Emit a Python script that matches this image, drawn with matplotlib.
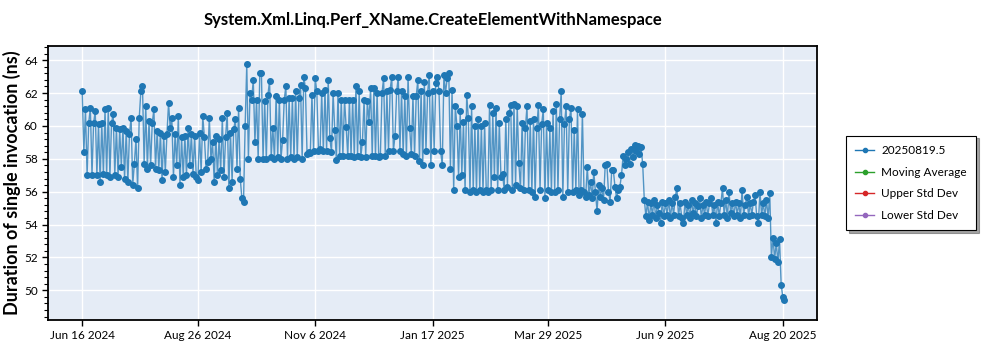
import pandas as pd
import matplotlib
matplotlib.use("Agg")
import matplotlib.pyplot as plt
import matplotlib.dates as mdates
from matplotlib.ticker import MultipleLocator, FuncFormatter

# --- data (one run per day) ---
START_DATE = "2024-06-16"
SERIES_LABEL = "20250819.5"

durations = [
    62.1, 58.4, 61.0, 57.0, 60.2, 61.1, 57.0, 60.2, 60.9, 57.0,
    60.1, 56.6, 60.2, 57.1, 61.0, 57.0, 61.1, 56.9, 60.2, 60.7,
    57.0, 59.9, 56.9, 59.8, 57.5, 59.9, 56.8, 59.7, 56.6, 59.5,
    60.5, 56.4, 57.7, 59.2, 56.2, 60.5, 62.1, 62.4, 57.7, 61.2,
    57.4, 60.3, 57.6, 60.2, 61.0, 57.4, 59.7, 57.3, 59.6, 56.7,
    59.4, 57.2, 59.5, 61.4, 59.85, 60.5, 56.9, 59.5, 57.6, 60.6,
    56.4, 59.3, 56.9, 59.4, 57.0, 59.9, 57.6, 59.5, 57.1, 59.4,
    56.9, 56.7, 59.6, 57.2, 60.6, 59.3, 57.4, 57.8, 60.5, 58.0,
    59.0, 56.6, 59.4, 57.0, 59.2, 57.3, 60.5, 56.9, 59.3, 60.8,
    56.2, 59.6, 56.6, 59.8, 60.4, 57.4, 61.1, 56.8, 55.6, 55.35,
    60.0, 63.75, 58.0, 62.0, 61.6, 62.8, 59.0, 61.6, 58.0, 63.2,
    63.2, 58.0, 61.5, 58.0, 61.9, 62.75, 58.1, 59.9, 58.0, 61.8,
    58.1, 61.6, 58.0, 59.15, 61.6, 62.4, 58.0, 61.7, 58.1, 61.7,
    58.0, 62.1, 58.1, 61.7, 62.5, 58.0, 63.0, 62.3, 58.3, 58.4,
    58.35, 61.9, 58.5, 62.9, 62.1, 58.5, 58.6, 62.0, 58.5, 62.2,
    58.5, 62.8, 59.25, 58.4, 62.0, 59.75, 57.95, 62.0, 58.2, 61.6,
    58.2, 61.6, 59.95, 58.15, 61.6, 58.2, 61.6, 58.1, 62.4, 58.2,
    62.1, 58.1, 59.05, 61.6, 58.1, 61.5, 60.25, 62.3, 58.2, 62.3,
    58.15, 62.0, 58.1, 58.2, 62.0, 62.9, 58.2, 62.1, 58.5, 62.2,
    63.0, 58.5, 59.4, 62.1, 63.0, 58.5, 62.1, 58.3, 61.8, 58.2,
    63.0, 59.85, 58.3, 61.8, 58.2, 61.8, 62.8, 57.85, 62.1, 57.6,
    62.7, 58.5, 62.0, 63.1, 57.6, 62.1, 58.5, 62.6, 63.0, 62.1,
    58.45, 57.6, 63.1, 62.0, 62.9, 63.25, 57.4, 62.2, 56.1, 61.2,
    60.0, 56.9, 60.9, 57.0, 60.25, 56.1, 61.9, 60.5, 56.0, 61.2,
    56.1, 60.0, 56.0, 60.45, 56.1, 60.0, 56.0, 60.15, 56.1, 56.0,
    61.25, 56.1, 60.8, 56.9, 61.1, 56.1, 60.2, 56.9, 57.1, 56.1,
    60.45, 56.3, 60.8, 61.25, 56.1, 61.35, 56.4, 61.2, 57.75, 56.2,
    60.2, 56.1, 59.85, 61.2, 56.1, 60.3, 56.0, 60.45, 55.7, 59.85,
    61.25, 56.1, 60.1, 61.0, 55.6, 60.2, 56.1, 59.9, 56.0, 60.9,
    56.0, 61.35, 56.1, 60.4, 62.1, 55.7, 60.1, 61.2, 56.0, 60.4,
    61.1, 56.0, 59.75, 56.1, 61.0, 55.8, 56.1, 60.75, 56.0, 55.7,
    57.5, 55.8, 56.6, 55.6, 57.2, 56.0, 54.8, 56.4, 55.7, 56.2,
    55.5, 57.6, 57.7, 56.0, 55.4, 57.3, 57.3, 56.3, 55.6, 56.1,
    56.3, 57.0, 58.2, 57.6, 58.0, 58.4, 57.7, 58.6, 58.1, 58.85,
    58.5, 58.8, 58.3, 58.7, 57.7, 55.5, 54.5, 55.4, 54.3, 55.3,
    54.6, 55.5, 54.4, 55.2, 54.7, 54.1, 55.4, 54.5, 55.3, 54.6,
    55.5, 54.4, 55.3, 54.6, 55.7, 56.2, 54.5, 55.3, 54.4, 54.1,
    55.4, 54.6, 55.2, 54.4, 55.5, 54.7, 55.3, 54.5, 55.1, 55.6,
    54.4, 55.2, 54.6, 55.4, 54.5, 55.3, 55.6, 54.6, 55.2, 54.1,
    55.4, 54.5, 55.3, 56.2, 54.6, 55.5, 54.4, 56.0, 54.7, 55.3,
    54.5, 55.4, 54.6, 55.3, 54.4, 56.1, 54.6, 55.2, 55.7, 54.5,
    55.3, 54.6, 55.4, 55.8, 54.5, 54.1, 56.0, 54.6, 55.3, 54.5,
    55.5, 54.4, 55.9, 52.0, 53.2, 51.9, 52.9, 51.7, 53.1, 50.35,
    49.6, 49.4,
]

x_ticks = ["2024-06-16", "2024-08-26", "2024-11-06", "2025-01-17",
           "2025-03-29", "2025-06-09", "2025-08-20"]

dates = pd.date_range(START_DATE, periods=len(durations), freq="D")

# --- plot ---
plt.rcParams["font.family"] = ["Lato", "DejaVu Sans"]

fig = plt.figure(figsize=(10, 3.5), dpi=100)
ax = fig.add_axes([0.048, 0.086, 0.769, 0.782])
ax.set_facecolor("#E5ECF6")

ax.plot(dates, durations, "-", color="#1f77b4", lw=1, alpha=0.75, zorder=2)
ax.plot(dates, durations, "o", color="#1f77b4", ms=4, zorder=3)
# legend handles (the extra series have no points in the chart)
ax.plot([], [], "o-", color="#1f77b4", ms=3, lw=1, label=SERIES_LABEL)
ax.plot([], [], "o-", color="#2ca02c", ms=3, lw=1, label="Moving Average")
ax.plot([], [], "o-", color="#d62728", ms=3, lw=1, label="Upper Std Dev")
ax.plot([], [], "o-", color="#9467bd", ms=3, lw=1, label="Lower Std Dev")

ax.set_xlim(pd.Timestamp("2024-05-26"), pd.Timestamp("2025-09-10"))
ax.set_ylim(48.2, 64.85)

ax.set_xticks(pd.to_datetime(x_ticks))
ax.xaxis.set_major_formatter(FuncFormatter(
    lambda v, pos: "{0:%b} {0.day} {0.year}".format(mdates.num2date(v))))
ax.yaxis.set_major_locator(MultipleLocator(2))
ax.yaxis.set_minor_locator(MultipleLocator(0.4))
ax.tick_params(axis="both", labelsize=8.5, width=1, length=4)
ax.tick_params(axis="y", which="minor", length=3, width=0.8)

ax.grid(True, color="white", lw=1)
ax.set_axisbelow(True)
for s in ax.spines.values():
    s.set_color("black")
    s.set_linewidth(1.3)

ax.set_title("System.Xml.Linq.Perf_XName.CreateElementWithNamespace",
             fontsize=12, fontweight="bold", pad=15)
ax.set_ylabel("Duration of single invocation (ns)", fontsize=13,
              fontweight="bold", labelpad=2)

leg = ax.legend(loc="center left", bbox_to_anchor=(1.03, 0.5), fontsize=8.5,
                frameon=True, fancybox=False, shadow=True, edgecolor="black",
                handlelength=1.6, handletextpad=0.6, borderpad=0.8,
                labelspacing=0.9)
leg.get_frame().set_linewidth(0.8)

fig.savefig("out.png", dpi=100)
